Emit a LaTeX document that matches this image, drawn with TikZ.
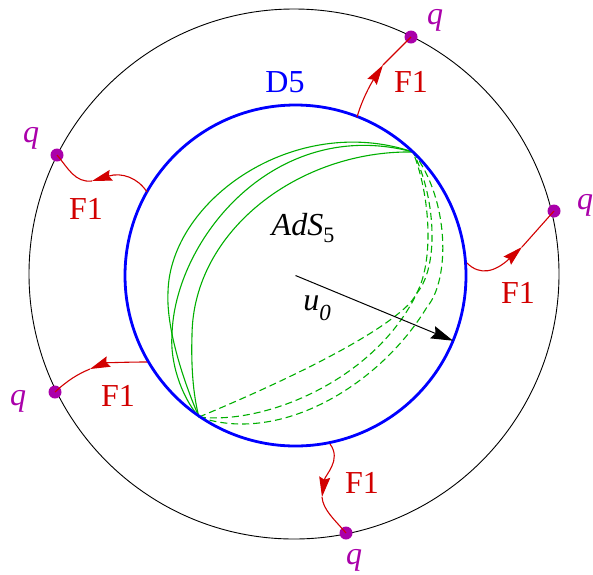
\documentclass[tikz,border=0pt]{standalone}
\usepackage{fontspec}
\setmainfont{Liberation Serif}
\newfontfamily\libserif{Liberation Serif}
\usetikzlibrary{arrows.meta}
\definecolor{fred}{RGB}{210,0,0}
\definecolor{qmag}{RGB}{170,0,170}
\definecolor{dgreen}{RGB}{0,175,0}
\definecolor{dblue}{RGB}{0,0,255}
\begin{document}
\begin{tikzpicture}[x=1pt,y=-1pt,
  bigtxt/.style={font=\libserif\fontsize{32}{36}\selectfont, inner sep=0pt},
  flabel/.style={bigtxt, text=fred},
  qlabel/.style={inner sep=0pt, text=qmag, font=\libserif\fontsize{32}{36}\selectfont\itshape},
  fstring/.style={draw=fred, line width=1.1pt},
  fstringarrow/.style={fstring, -{Stealth[length=20pt,width=11pt,inset=2.5pt]}},
  qdot/.style={circle, fill=qmag, minimum size=13pt, inner sep=0pt},
  solidgeo/.style={draw=dgreen, line width=1.1pt},
  dashedgeo/.style={solidgeo, dash pattern=on 7pt off 4pt},
]
\useasboundingbox (0,0) rectangle (593,574);
\coordinate (O1) at (294,274);
\coordinate (O2) at (295.5,275.5);
% outer circle
\draw[line width=0.9pt] (O1) circle[radius=265pt];
% green geodesics
\coordinate (P1) at (413,152);
\coordinate (P2) at (199,417);
\coordinate (L1) at (168,292);
\coordinate (L2) at (172,335);
\coordinate (L3) at (192,335);
\draw[solidgeo] (P2) .. controls (185,385) and (166,330) .. (L1) .. controls (170,200) and (295,112) .. (P1);
\draw[solidgeo] (P2) .. controls (180,395) and (170,360) .. (L2) .. controls (174,240) and (275,115) .. (P1);
\draw[solidgeo] (P2) .. controls (193,395) and (191,365) .. (L3) .. controls (193,230) and (300,150) .. (P1);
\coordinate (M1) at (410,303);
\coordinate (M2) at (417,293);
\coordinate (M3) at (427,307);
\draw[dashedgeo] (P2) .. controls (235,402) and (370,345) .. (M1) .. controls (435,275) and (432,200) .. (P1);
\draw[dashedgeo] (P2) .. controls (265,425) and (375,380) .. (M2) .. controls (440,265) and (435,195) .. (P1);
\draw[dashedgeo] (P2) .. controls (280,445) and (380,385) .. (M3) .. controls (450,280) and (450,200) .. (P1);
% blue D5 circle
\draw[dblue, line width=2.8pt] (O2) circle[radius=170.5pt];
% radius arrow
\coordinate (A) at (453,340.7);
\draw[line width=1pt, -{Stealth[length=22pt,width=13pt,inset=3pt]}] (O2) -- (A);
% labels
\node[bigtxt, text=dblue] (d5) at (285,82) {D5};
\node[inner sep=0pt, font=\libserif\fontsize{32}{36}\selectfont\itshape] (ads) at (303,228) {AdS\raisebox{-7pt}{\fontsize{22}{22}\selectfont\upshape 5}};
\node[inner sep=0pt, font=\libserif\fontsize{32}{36}\selectfont\itshape] (u0) at (317,308) {u\raisebox{-10pt}{\fontsize{23}{23}\selectfont 0}};
% F1 strings
\coordinate (t0) at (357,117);
\coordinate (tm) at (383,65);
\coordinate (lt0) at (147,192);
\coordinate (ltm) at (92,181);
\coordinate (r0) at (467,263);
\coordinate (rm) at (522,247);
\coordinate (lb0) at (147,362);
\coordinate (lbm) at (90,369);
\coordinate (b0) at (330,444);
\coordinate (bm) at (322,497);
\node[qdot] (qt) at (411,37) {};
\node[qdot] (qlt) at (57,155) {};
\node[qdot] (qr) at (554,211) {};
\node[qdot] (qlb) at (55,392) {};
\node[qdot] (qb) at (346,533) {};
\draw[fstringarrow] (t0) .. controls (362,100) and (370,85) .. (tm);
\draw[fstring] (tm) -- (qt.center);
\draw[fstringarrow] (lt0) .. controls (138,178) and (122,172) .. (ltm);
\draw[fstring] (ltm) .. controls (75,183) and (68,168) .. (qlt.center);
\draw[fstringarrow] (r0) .. controls (480,276) and (495,272) .. (rm);
\draw[fstring] (rm) -- (qr.center);
\draw[fstringarrow] (lb0) .. controls (125,362) and (105,363) .. (lbm);
\draw[fstring] (lbm) .. controls (78,374) and (68,380) .. (qlb.center);
\draw[fstringarrow] (b0) .. controls (342,460) and (325,475) .. (bm);
\draw[fstring] (bm) .. controls (323,510) and (335,520) .. (qb.center);
% F1 labels
\node[flabel] (f1t) at (411,82) {F1};
\node[flabel] (f1lt) at (86,209) {F1};
\node[flabel] (f1r) at (518,293) {F1};
\node[flabel] (f1lb) at (118,396) {F1};
\node[flabel] (f1b) at (362,483) {F1};
% q labels
\node[qlabel] (lqt) at (435,20) {q};
\node[qlabel] (lqlt) at (31,138) {q};
\node[qlabel] (lqr) at (585,205) {q};
\node[qlabel] (lqlb) at (18,401) {q};
\node[qlabel] (lqb) at (354,560) {q};
\end{tikzpicture}
\end{document}
